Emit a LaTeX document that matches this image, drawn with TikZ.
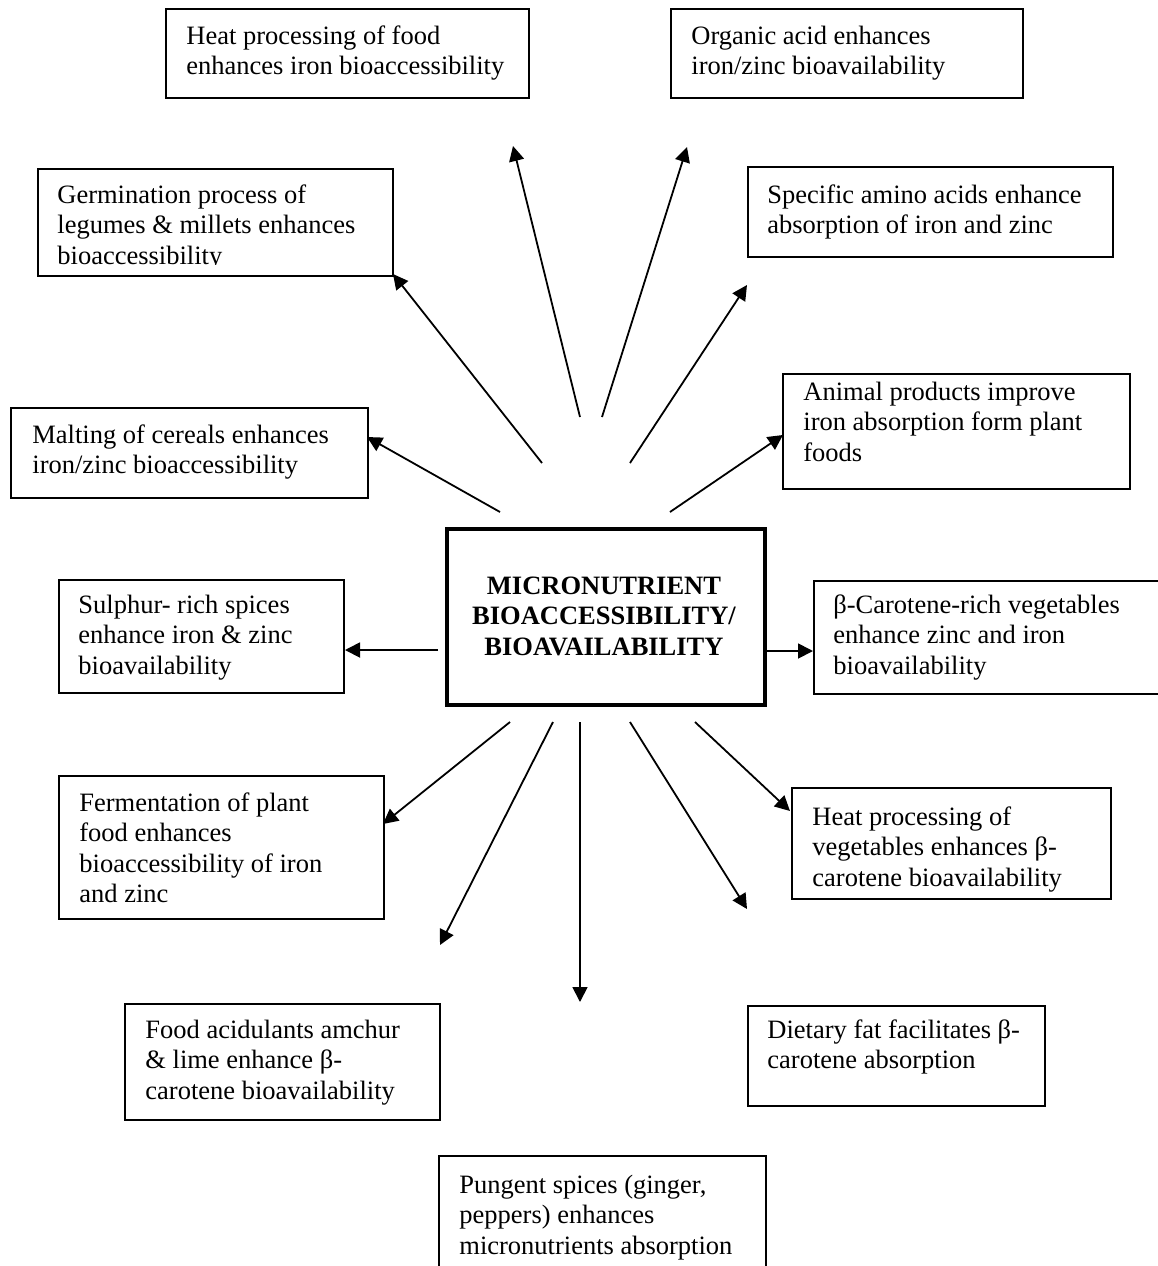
\documentclass[tikz,border=0pt]{standalone}
\usepackage{fontspec}
\setmainfont{Liberation Serif}
\usetikzlibrary{arrows.meta}
\begin{document}
\begin{tikzpicture}[x=0.5pt,y=-0.5pt,
  box/.style 2 args={draw, line width=0.9pt, inner sep=0pt, anchor=north west,
    minimum width=#1*0.5pt, minimum height=#2*0.5pt},
  hub/.style 2 args={draw, line width=2pt, inner sep=0pt, anchor=north west,
    minimum width=#1*0.5pt, minimum height=#2*0.5pt},
  txt/.style={anchor=north west, inner sep=0pt, align=left,
    font=\fontsize{13.25}{15.25}\selectfont},
  hubtxt/.style={anchor=north, inner sep=0pt, align=center,
    font=\fontsize{13.25}{15.25}\selectfont\bfseries},
  link/.style={line width=0.9pt, -{Triangle[length=7.5pt,width=7.5pt]}}
]
\newcommand\lead{\rule{0pt}{10pt}}
\useasboundingbox (0,0) rectangle (1158,1266);
\fill[white] (0,0) rectangle (1158,1266);

% central hub
\node[hub={318}{176}] (hub) at (445,527) {};
\node[hubtxt] (hubt) at (604,574) {\lead MICRONUTRIENT\\BIOACCESSIBILITY/\\BIOAVAILABILITY};

% surrounding factor boxes
\node[box={363}{89}] (hf) at (165,8) {};
\node[txt] (hft) at (186,24) {\lead Heat processing of food\\enhances iron bioaccessibility};

\node[box={352}{89}] (oa) at (670,8) {};
\node[txt] (oat) at (691,24) {\lead Organic acid enhances\\iron/zinc bioavailability};

\node[box={355}{107}] (gm) at (37,168) {};
\begin{scope}
  \clip (37,168) rectangle (392,264);
  \node[txt] (gmt) at (57,183) {\lead Germination process of\\legumes \& millets enhances\\bioaccessibility};
\end{scope}

\node[box={365}{90}] (sa) at (747,166) {};
\node[txt] (sat) at (767,183) {\lead Specific amino acids enhance\\absorption of iron and zinc};

\node[box={357}{90}] (mc) at (10,407) {};
\node[txt] (mct) at (32,423) {\lead Malting of cereals enhances\\iron/zinc bioaccessibility};

\node[box={347}{115}] (ap) at (782,373) {};
\node[txt] (apt) at (803,380) {\lead Animal products improve\\iron absorption form plant\\foods};

\node[box={285}{113}] (sr) at (58,579) {};
\node[txt] (srt) at (78,593) {\lead Sulphur- rich spices\\enhance iron \& zinc\\bioavailability};

\node[box={357}{113}] (bc) at (813,580) {};
\node[txt] (bct) at (833,593) {\lead β-Carotene-rich vegetables\\enhance zinc and iron\\bioavailability};

\node[box={325}{143}] (fe) at (58,775) {};
\node[txt] (fet) at (79,791) {\lead Fermentation of plant\\food enhances\\bioaccessibility of iron\\and zinc};

\node[box={319}{111}] (hv) at (791,787) {};
\node[txt] (hvt) at (812,805) {\lead Heat processing of\\vegetables enhances β-\\carotene bioavailability};

\node[box={315}{116}] (fa) at (124,1003) {};
\node[txt] (fat) at (145,1018) {\lead Food acidulants amchur\\\& lime enhance β-\\carotene bioavailability};

\node[box={297}{100}] (df) at (747,1005) {};
\node[txt] (dft) at (767,1018) {\lead Dietary fat facilitates β-\\carotene absorption};

\node[box={327}{135}] (ps) at (438,1155) {};
\node[txt] (pst) at (459,1173) {\lead Pungent spices (ginger,\\peppers) enhances\\micronutrients absorption};

% arrow ends
\coordinate (s1) at (580,417);  \coordinate (e1) at (513,146);
\coordinate (s2) at (602,417);  \coordinate (e2) at (687,147);
\coordinate (s3) at (542,463);  \coordinate (e3) at (393,274);
\coordinate (s4) at (630,463);  \coordinate (e4) at (747,285);
\coordinate (s5) at (500,512);  \coordinate (e5) at (367,437);
\coordinate (s6) at (670,512);  \coordinate (e6) at (783,435);
\coordinate (s7) at (438,650);  \coordinate (e7) at (345,650);
\coordinate (s8) at (765,651);  \coordinate (e8) at (813,651);
\coordinate (s9) at (510,722);  \coordinate (e9) at (383,824);
\coordinate (s10) at (553,722); \coordinate (e10) at (440,945);
\coordinate (s11) at (580,722); \coordinate (e11) at (580,1002);
\coordinate (s12) at (630,722); \coordinate (e12) at (747,909);
\coordinate (s13) at (695,722); \coordinate (e13) at (790,811);

\foreach \i in {1,...,13} \draw[link] (s\i) -- (e\i);
\end{tikzpicture}
\end{document}
